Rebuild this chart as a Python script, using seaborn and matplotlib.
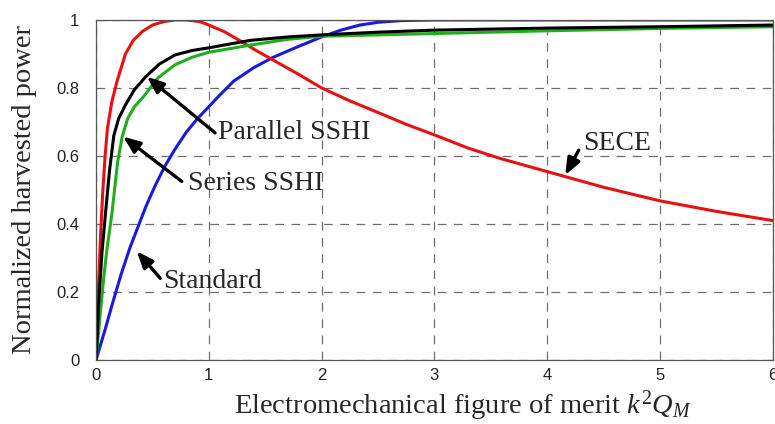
import matplotlib
matplotlib.use("Agg")
import matplotlib.pyplot as plt
import seaborn as sns
import pandas as pd

# ---- data ----
std_x = [0, 0.04, 0.083, 0.14, 0.22, 0.3, 0.37, 0.44, 0.52, 0.61, 0.7, 0.8, 0.9, 1.0, 1.1, 1.22,
         1.4, 1.57, 1.78, 2.0, 2.17, 2.34, 2.5, 2.7, 3.0, 4.0, 5.0, 6.0]
std_y = [0, 0.045, 0.093, 0.16, 0.25, 0.33, 0.39, 0.45, 0.51, 0.57, 0.62, 0.67, 0.71, 0.745, 0.78, 0.82,
         0.86, 0.89, 0.92, 0.95, 0.97, 0.985, 0.993, 0.998, 1.0, 1.0, 1.0, 1.0]

sece_x = [0, 0.012, 0.025, 0.04, 0.06, 0.08, 0.1, 0.14, 0.186, 0.26, 0.33, 0.41, 0.5, 0.6, 0.7, 0.8,
          0.92, 1.0, 1.14, 1.28, 1.42, 1.57, 1.78, 2.0, 2.25, 2.52, 2.75, 3.0, 3.3, 3.58, 4.0, 4.5,
          5.0, 5.5, 6.0]
sece_y = [0, 0.13, 0.25, 0.37, 0.5, 0.6, 0.68, 0.76, 0.82, 0.90, 0.94, 0.966, 0.985, 0.995, 1.0, 1.0,
          0.995, 0.985, 0.965, 0.938, 0.91, 0.882, 0.843, 0.80, 0.762, 0.725, 0.693, 0.662, 0.623, 0.593,
          0.554, 0.508, 0.468, 0.437, 0.41]

par_x = [0, 0.025, 0.053, 0.083, 0.12, 0.157, 0.2, 0.26, 0.34, 0.44, 0.56, 0.7, 0.85, 1.0, 1.2,
         1.37, 1.7, 2.0, 2.5, 3.0, 4.0, 5.0, 6.0]
par_y = [0, 0.18, 0.32, 0.43, 0.56, 0.66, 0.71, 0.75, 0.795, 0.833, 0.87, 0.897, 0.91, 0.918, 0.93,
         0.94, 0.95, 0.956, 0.964, 0.97, 0.976, 0.98, 0.985]

ser_x = [0, 0.038, 0.07, 0.098, 0.14, 0.19, 0.23, 0.28, 0.34, 0.41, 0.55, 0.7, 0.85, 1.0, 1.37,
         1.7, 2.0, 3.0, 4.0, 5.0, 6.0]
ser_y = [0, 0.14, 0.25, 0.33, 0.43, 0.58, 0.655, 0.71, 0.745, 0.77, 0.83, 0.868, 0.89, 0.905, 0.926,
         0.943, 0.952, 0.96, 0.968, 0.975, 0.98]

series_names = ["Standard", "SECE", "Series SSHI", "Parallel SSHI"]
series_colors = ["#1a1adf", "#e81010", "#1fae1f", "#000000"]

x_ticks = [0, 1, 2, 3, 4, 5, 6]
y_ticks = [0, 0.2, 0.4, 0.6, 0.8, 1.0]
y_tick_labels = ["0", "0.2", "0.4", "0.6", "0.8", "1"]

# annotations: (text, text x, text y, arrow tail x, tail y, arrow tip x, tip y)
annotations = [
    ("Parallel SSHI", 1.08, 0.668, 1.055, 0.668, 0.45, 0.833),
    ("Series SSHI", 0.815, 0.52, 0.76, 0.525, 0.24, 0.657),
    ("Standard", 0.594, 0.23, 0.57, 0.24, 0.36, 0.32),
    ("SECE", 4.32, 0.638, 4.28, 0.617, 4.16, 0.544),
]

frames = []
for name, xs, ys in zip(series_names, [std_x, sece_x, ser_x, par_x], [std_y, sece_y, ser_y, par_y]):
    frames.append(pd.DataFrame({"x": xs, "y": ys, "series": name}))
df = pd.concat(frames, ignore_index=True)

sns.set_style("white")
plt.rcParams["font.family"] = ["Liberation Sans", "DejaVu Sans"]
plt.rcParams["mathtext.fontset"] = "custom"
plt.rcParams["mathtext.it"] = "Liberation Serif:italic"
plt.rcParams["mathtext.rm"] = "Liberation Serif"

fig = plt.figure(figsize=(7.75, 4.24), dpi=100)
ax = fig.add_axes([0.124, 0.151, 0.873, 0.802])

sns.lineplot(data=df, x="x", y="y", hue="series", hue_order=series_names,
             palette=dict(zip(series_names, series_colors)), sort=False,
             estimator=None, linewidth=2.2, legend=False, ax=ax)

ax.set_xlim(0, 6)
ax.set_ylim(0, 1)
ax.set_xticks(x_ticks)
ax.set_xticklabels([str(t) for t in x_ticks])
ax.set_yticks(y_ticks)
ax.set_yticklabels(y_tick_labels)
ax.tick_params(direction="in", length=4, labelsize=12, colors="#222222")
ax.tick_params(axis="x", pad=6)
ax.tick_params(axis="y", pad=12)
for t in ax.get_xticklabels() + ax.get_yticklabels():
    t.set_color("#222222")

ax.grid(True, linestyle=(0, (7, 6)), color="#555555", linewidth=0.9, alpha=0.85)
for s in ax.spines.values():
    s.set_color("#555555")
    s.set_linewidth(0.9)

serif = ["Liberation Serif", "DejaVu Serif"]
ax.set_xlabel(r"Electromechanical figure of merit $k^2Q_M$", fontsize=20.5,
              family=serif, labelpad=4)
ax.xaxis.label.set_x(0.542)
ax.set_ylabel("Normalized harvested power", fontsize=20.5, family=serif, labelpad=14)

for text, tx, ty, sx, sy, px, py in annotations:
    ax.annotate("", xy=(px, py), xytext=(sx, sy),
                arrowprops=dict(arrowstyle="-|>,head_length=1.0,head_width=0.4",
                                mutation_scale=10, color="black", lw=2.4,
                                shrinkA=0, shrinkB=0))
    ax.text(tx, ty, text, fontsize=20, family=serif, ha="left", va="center")

fig.savefig("out.png", dpi=100)
